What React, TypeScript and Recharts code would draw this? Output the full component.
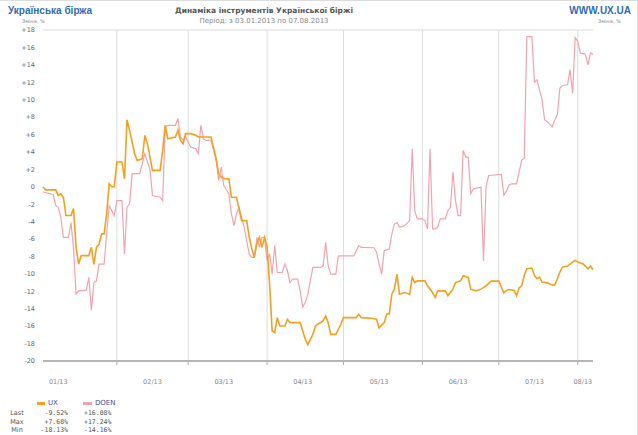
import { LineChart, Line, XAxis, YAxis, CartesianGrid, ReferenceLine } from "recharts";

// day of year 2013 (0 = 1 Jan), change in %
const uxDays = [2, 3, 7, 8, 9, 10, 11, 13, 14, 15, 16, 17, 20, 21, 22, 23, 24, 25, 26, 27, 28, 29, 30, 31, 33, 34, 35, 36, 38, 39, 41, 42, 43, 44, 45, 48, 49, 50, 51, 54, 55, 56, 57, 58, 60, 62, 63, 68, 70, 71, 72, 73, 75, 76, 78, 79, 80, 82, 83, 84, 85, 86, 87, 88, 89, 90, 91, 92, 93, 94, 95, 97, 98, 99, 103, 104, 105, 106, 108, 109, 110, 112, 113, 114, 115, 117, 119, 120, 125, 126, 127, 131, 133, 134, 136, 137, 138, 139, 140, 141, 142, 144, 146, 147, 148, 149, 152, 153, 155, 156, 157, 160, 161, 162, 163, 164, 166, 167, 169, 170, 172, 174, 176, 178, 181, 182, 183, 184, 185, 187, 188, 189, 190, 191, 192, 194, 195, 196, 197, 198, 200, 202, 203, 204, 205, 206, 208, 210, 211, 212, 214, 215, 216, 217, 218];
const uxVals = [0, -0.35, -0.35, -1.0, -0.8, -1.2, -3.3, -3.3, -2.5, -6.95, -8.87, -7.9, -7.9, -6.95, -8.9, -6.95, -6.6, -5.4, -5.4, -3.1, 0.35, 0, 0, 2.84, 2.84, 0.92, 7.68, 6.49, 3.8, 3.03, 3.22, 5.9, 4.95, 3.41, 1.88, 1.88, 4.18, 7.06, 5.52, 5.72, 6.49, 5.33, 4.95, 6.1, 6.1, 5.91, 5.72, 5.72, 3.22, 1.5, 1.11, 0.92, 0.92, -1.2, -1.2, -2.54, -3.88, -3.88, -5.8, -7.1, -8.1, -6.5, -5.8, -6.95, -5.8, -6.9, -11.2, -16.56, -16.75, -15.02, -15.98, -15.98, -15.21, -15.6, -15.6, -16.56, -17.51, -18.13, -16.94, -15.98, -15.78, -15.4, -14.83, -15.6, -16.94, -16.94, -15.78, -15.02, -15.02, -14.63, -15.02, -15.1, -15.2, -16.2, -15.6, -14.6, -14.6, -12.33, -11.75, -10.03, -12.33, -12.14, -12.33, -10.41, -10.99, -10.8, -10.8, -11.37, -12.14, -12.72, -11.95, -11.95, -12.52, -12.14, -11.75, -10.99, -10.8, -10.22, -10.41, -11.75, -11.95, -11.75, -11.37, -10.83, -10.83, -11.52, -12.18, -11.91, -11.79, -11.91, -12.49, -11.6, -11.34, -10.18, -9.41, -9.33, -10.18, -10.56, -10.37, -10.94, -11.03, -11.26, -11.26, -10.56, -9.79, -9.22, -9.1, -8.64, -8.45, -8.64, -8.84, -9.1, -9.41, -9.1, -9.52];

const doenDays = [2, 6, 7, 8, 9, 10, 12, 13, 14, 15, 16, 19, 20, 21, 22, 23, 24, 26, 27, 28, 30, 31, 33, 34, 35, 36, 37, 40, 42, 43, 44, 45, 48, 49, 50, 51, 54, 55, 56, 57, 58, 60, 62, 63, 64, 65, 66, 68, 70, 71, 72, 73, 75, 76, 77, 78, 79, 81, 83, 84, 85, 86, 87, 88, 89, 90, 91, 92, 93, 94, 96, 97, 98, 99, 100, 102, 103, 104, 105, 106, 108, 111, 112, 113, 114, 115, 117, 118, 124, 126, 127, 132, 133, 134, 135, 136, 138, 139, 140, 141, 142, 144, 146, 147, 148, 149, 151, 152, 153, 154, 155, 156, 157, 158, 160, 161, 162, 163, 164, 165, 166, 167, 168, 169, 170, 171, 174, 175, 176, 177, 182, 183, 184, 185, 186, 188, 189, 190, 191, 192, 194, 195, 196, 197, 198, 199, 200, 202, 203, 204, 205, 206, 208, 209, 210, 211, 212, 213, 215, 216, 217, 218];
const doenVals = [-0.6, -0.89, -2.15, -2.35, -3.5, -5.8, -5.8, -4.1, -7.14, -12.33, -11.95, -11.87, -10.4, -14.16, -10.99, -10.8, -8.87, -8.87, -5.42, -2.15, -3.3, -1.58, -1.58, -7.72, -2.35, -1.96, 1.5, 1.5, 3.8, 2.84, 2.0, -1.0, -1.2, -1.58, 6.87, 7.06, 7.06, 7.83, 5.72, 5.33, 5.72, 4.56, 4.37, 3.8, 7.06, 5.52, 5.33, 5.33, 3.03, 0.7, 2.26, 0.15, -0.81, -3.1, -4.46, -3.1, -2.35, -4.65, -7.72, -8.1, -8.11, -5.8, -6.96, -5.8, -5.8, -8.5, -7.72, -10.02, -6.76, -9.84, -9.84, -8.87, -9.64, -10.99, -10.6, -10.6, -11.95, -13.79, -13.29, -12.33, -9.26, -9.26, -9.07, -6.38, -9.07, -10.02, -10.02, -7.93, -7.93, -6.76, -6.96, -7.0, -7.5, -8.87, -10.03, -7.34, -7.14, -5.42, -4.26, -4.1, -4.65, -4.46, -3.88, 4.37, -2.73, -3.69, -3.69, -3.88, -4.84, 4.37, -4.84, -4.84, -4.65, -3.69, -3.69, -2.73, -2.35, 1.69, -1.58, -3.3, -3.3, 4.18, 3.41, 3.41, -0.81, -0.23, -0.04, -8.49, -0.04, 1.3, 1.42, -0.96, -0.5, 0.18, 0.34, 0.34, 1.72, 3.07, 3.26, 17.24, 17.24, 12.0, 12.28, 11.13, 9.98, 7.68, 7.49, 6.91, 7.68, 8.26, 11.33, 11.63, 11.71, 13.44, 10.75, 17.1, 16.7, 15.36, 15.24, 14.0, 15.36, 15.2];

const monthLabels = ["01/13", "02/13", "03/13", "04/13", "05/13", "06/13", "07/13", "08/13"];
const monthLabelDays = [8, 45, 73, 104, 134, 165, 195, 214];
const monthStarts = [31, 59, 90, 120, 151, 181, 212];
const yTicks = [-20, -18, -16, -14, -12, -10, -8, -6, -4, -2, 0, 2, 4, 6, 8, 10, 12, 14, 16, 18];

const seriesNames = ["UX", "DOEN"];
const statRows = ["Last", "Max", "Min"];
const uxStats = ["-9.52%", "+7.68%", "-18.13%"];
const doenStats = ["+16.08%", "+17.24%", "-14.16%"];

const UX_COLOR = "#f5a01e";
const DOEN_COLOR = "#f4a3ad";

const uxData = uxDays.map((d, i) => ({ d, v: uxVals[i] }));
const doenData = doenDays.map((d, i) => ({ d, v: doenVals[i] }));

const fmtY = (v: number) => (v > 0 ? "+" + v : String(v));
const fmtX = (v: number) => monthLabels[monthLabelDays.indexOf(v)] ?? "";

const tickStyle = { fontSize: 6.5, fill: "#666", fontFamily: "DejaVu Sans" };

export default function App() {
  return (
    <div
      style={{
        position: "relative",
        width: 638,
        height: 435,
        background: "#fff",
        fontFamily: "'DejaVu Sans', sans-serif",
        boxSizing: "border-box",
        borderTop: "1px solid #ddd",
        borderRight: "1px solid #ddd",
      }}
    >
      <style>{`body{margin:0}`}</style>
      <div style={{ position: "absolute", left: 8, top: 4, fontSize: 10, fontWeight: "bold", color: "#2f6db3", fontFamily: "'Liberation Sans', sans-serif" }}>
        Українська біржа
      </div>
      <div style={{ position: "absolute", right: 6, top: 4, fontSize: 10, fontWeight: "bold", color: "#2f6db3", fontFamily: "'Liberation Sans', sans-serif" }}>
        WWW.UX.UA
      </div>
      <div style={{ position: "absolute", left: 0, width: 528, top: 5, textAlign: "center", fontSize: 7.5, fontWeight: "bold", color: "#555" }}>
        Динаміка інструментів Української біржі
      </div>
      <div style={{ position: "absolute", left: 0, width: 528, top: 16, textAlign: "center", fontSize: 7, color: "#888" }}>
        Період: з 03.01.2013 по 07.08.2013
      </div>
      <div style={{ position: "absolute", left: 22, top: 17, fontSize: 5, color: "#888" }}>Зміна, %</div>
      <div style={{ position: "absolute", left: 598, top: 17, fontSize: 5, color: "#888" }}>Зміна, %</div>

      <LineChart width={638} height={435} margin={{ top: 29, right: 0, bottom: 45, left: 0 }}>
        <CartesianGrid vertical={false} stroke="#dcdcdc" />
        <XAxis
          dataKey="d"
          type="number"
          domain={[2, 218]}
          ticks={monthLabelDays}
          tickFormatter={fmtX}
          tickLine={false}
          axisLine={{ stroke: "#b5b5b5", strokeWidth: 2 }}
          tick={{ ...tickStyle, fill: "#888" }}
          tickMargin={12}
          height={30}
          interval={0}
        />
        <YAxis
          yAxisId="l"
          orientation="left"
          domain={[-20, 18]}
          ticks={yTicks}
          tickFormatter={fmtY}
          tickLine={false}
          axisLine={false}
          width={43}
          tick={tickStyle}
          interval={0}
        />
        <YAxis
          yAxisId="r"
          orientation="right"
          domain={[-20, 18]}
          ticks={yTicks}
          tickFormatter={fmtY}
          tickLine={false}
          axisLine={false}
          width={45}
          tick={{ ...tickStyle, textAnchor: "end", dx: 14 }}
          interval={0}
        />
        {monthStarts.map((m) => (
          <ReferenceLine key={"g" + m} yAxisId="l" x={m} stroke="#dcdcdc" />
        ))}
        {monthStarts.map((m) => (
          <ReferenceLine
            key={"t" + m}
            yAxisId="l"
            segment={[{ x: m, y: -20 }, { x: m, y: -20.45 }]}
            ifOverflow="visible"
            stroke="#aaa"
          />
        ))}
        <Line yAxisId="l" data={doenData} dataKey="v" type="linear" stroke={DOEN_COLOR} strokeWidth={1.2} dot={false} isAnimationActive={false} />
        <Line yAxisId="l" data={uxData} dataKey="v" type="linear" stroke={UX_COLOR} strokeWidth={1.6} dot={false} isAnimationActive={false} />
      </LineChart>

      <div style={{ position: "absolute", left: 37, top: 398, fontSize: 7, display: "flex", alignItems: "center", color: "#4a4aa8" }}>
        <span style={{ width: 8, height: 3, background: UX_COLOR, display: "inline-block", marginRight: 3 }} />
        <span>{seriesNames[0]}</span>
        <span style={{ width: 9, height: 3, background: DOEN_COLOR, display: "inline-block", marginLeft: 25, marginRight: 3 }} />
        <span>{seriesNames[1]}</span>
      </div>
      {statRows.map((r, i) => (
        <div key={r} style={{ position: "absolute", top: 408 + i * 8.5, left: 0, fontSize: 6.5, color: "#555", fontFamily: "'DejaVu Sans Mono', monospace", lineHeight: "8px" }}>
          <span style={{ position: "absolute", left: 8, width: 18, textAlign: "center", fontFamily: "'DejaVu Sans', sans-serif" }}>{r}</span>
          <span style={{ position: "absolute", left: 38, width: 30, textAlign: "right" }}>{uxStats[i]}</span>
          <span style={{ position: "absolute", left: 84, width: 32, textAlign: "left" }}>{doenStats[i]}</span>
        </div>
      ))}
    </div>
  );
}
